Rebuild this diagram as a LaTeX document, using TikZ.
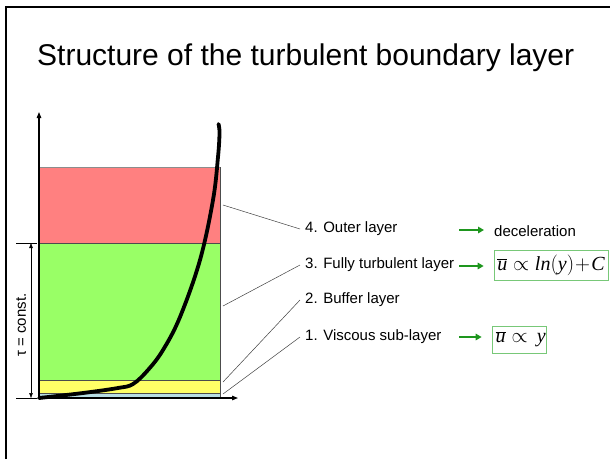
\documentclass[tikz,border=0pt]{standalone}
\usepackage{fontspec}
\setmainfont{Liberation Sans}
\newfontfamily\fser{Liberation Serif}
\newcommand\tvar[1]{\hbox{\fser\itshape #1}}
\usetikzlibrary{arrows.meta}
\definecolor{layred}{RGB}{255,128,128}
\definecolor{laygreen}{RGB}{153,255,102}
\definecolor{layyellow}{RGB}{255,255,102}
\definecolor{layblue}{RGB}{184,222,228}
\definecolor{arrgreen}{RGB}{30,150,30}
\definecolor{boxgreen}{RGB}{120,200,120}
\begin{document}
\begin{tikzpicture}[x=1pt,y=-1pt,
  lbl/.style={anchor=west,inner xsep=5pt,inner ysep=0pt,font=\fontsize{15}{18}\selectfont},
  leader/.style={draw=black!75,line width=0.5pt},
  garrow/.style={draw=arrgreen,line width=2pt,-{Triangle[length=6pt,width=6.5pt]},shorten >=10pt},
  fbox/.style={draw=boxgreen,line width=0.7pt,inner sep=0pt,font=\fontsize{20}{24}\selectfont},
  axis/.style={line width=1.2pt,-{Triangle[length=6pt,width=4.5pt]}},
  layer/.style={draw=black!70,line width=0.5pt}]
\useasboundingbox (0,0) rectangle (610,459);
% frame
\draw[line width=2pt] (6,459) -- (6,7) -- (610,7);
% title
\node[anchor=west,inner sep=0pt,font=\fontsize{30}{36}\selectfont] (title) at (37,58) {Structure of the turbulent boundary layer};
% layers
\fill[layred] (39,167) rectangle (220,243);
\draw[draw=black!45,line width=1pt] (39,167) -- (220,167);
\draw[layer] (220,167) -- (220,243);
\filldraw[layer,fill=laygreen] (39,243) rectangle (220,380);
\filldraw[layer,fill=layyellow] (39,380) rectangle (220,393);
\filldraw[layer,fill=layblue] (39,393) rectangle (220,398);
% axes
\coordinate (o) at (39,398);
\coordinate (ytip) at (39,112);
\coordinate (xtip) at (238,398);
\draw[axis] (o) -- (ytip);
\draw[axis] (o) -- (xtip);
% tau bracket
\coordinate (t1a) at (16,243); \coordinate (t1b) at (37,243);
\coordinate (t2a) at (16,398); \coordinate (t2b) at (37,398);
\draw[line width=0.8pt] (t1a) -- (t1b);
\draw[line width=0.8pt] (t2a) -- (t2b);
\coordinate (ta) at (31,243); \coordinate (tb) at (31,398);
\draw[line width=0.5pt,{Triangle[length=5pt,width=3.5pt]}-{Triangle[length=5pt,width=3.5pt]}] (ta) -- (tb);
\node[rotate=90,inner sep=0pt,font=\fontsize{15}{18}\selectfont] (tau) at (21,325) {τ = const.};
% velocity profile
\draw[line width=3.8pt,line cap=round] plot[smooth,tension=0.6] coordinates {(39,398) (83,393) (118,388) (133,384) (148,370) (163,350) (180,317) (200,260) (213,200) (218,157) (219.5,133) (218.5,124)};
% labels
\node[lbl] (l4) at (300,229) {4. Outer layer};
\node[lbl] (l3) at (300,265) {3. Fully turbulent layer};
\node[lbl] (l2) at (300,300) {2. Buffer layer};
\node[lbl] (l1) at (300,337) {1. Viscous sub-layer};
\coordinate (p4) at (223,205);
\coordinate (p3) at (223,306);
\coordinate (p2) at (223,382);
\coordinate (p1) at (223,394);
\draw[leader] (p4) -- (l4.west);
\draw[leader] (p3) -- (l3.west);
\draw[leader] (p2) -- (l2.west);
\draw[leader] (p1) -- (l1.west);
% results
\node[anchor=west,inner sep=0pt,font=\fontsize{15}{18}\selectfont] (dec) at (494,231) {deceleration};
\node[fbox,minimum width=114pt,minimum height=30pt] (f1) at (551,265) {$\overline{\tvar{u}}\propto\tvar{ln}\Bigl(\tvar{y}\Bigr)\!+\!\tvar{C}$};
\node[fbox,minimum width=54pt,minimum height=27pt] (f2) at (519,339.5) {$\,\overline{\tvar{u}}\propto\,\tvar{y}$};
\coordinate (a4) at (459,230);
\coordinate (a3) at (459,266);
\coordinate (a1) at (459,337);
\draw[garrow] (a4) -- (a4 -| dec.west);
\draw[garrow] (a3) -- (a3 -| f1.west);
\draw[garrow] (a1) -- (a1 -| f2.west);
\end{tikzpicture}
\end{document}
